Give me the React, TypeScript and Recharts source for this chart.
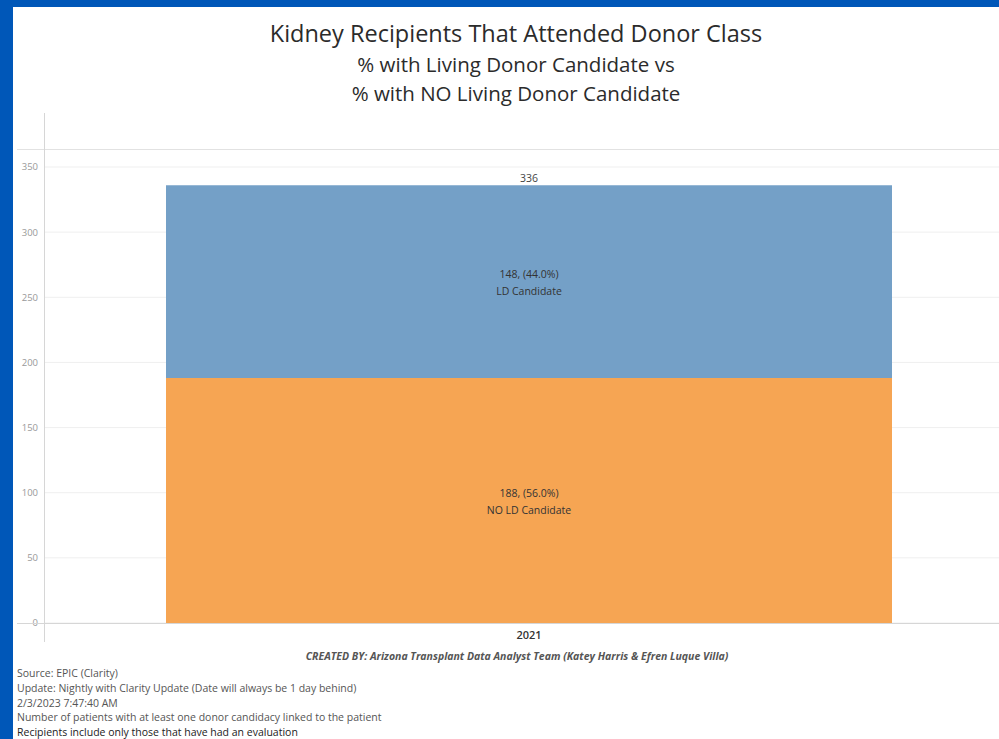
import { BarChart, Bar, XAxis, YAxis, CartesianGrid, LabelList } from 'recharts';

const years = ['2021'];
const withLdCandidate = [148];
const noLdCandidate = [188];
const yTicks = [0, 50, 100, 150, 200, 250, 300, 350];

const footerLines = [
  'Source: EPIC (Clarity)',
  'Update: Nightly with Clarity Update (Date will always be 1 day behind)',
  '2/3/2023 7:47:40 AM',
  'Number of patients with at least one donor candidacy linked to the patient',
  'Recipients include only those that have had an evaluation',
];

const data = years.map((year, i) => ({
  year,
  noLd: noLdCandidate[i],
  ld: withLdCandidate[i],
  total: noLdCandidate[i] + withLdCandidate[i],
}));

const BLUE = '#74a0c7';
const ORANGE = '#f6a553';
const FONT = '"Open Sans", "Noto Sans", sans-serif';

function pct(v: number, total: number) {
  return `${v}, (${((v / total) * 100).toFixed(1)}%)`;
}

// two-line label in the middle of a stacked segment
function segmentLabel(series: number[], caption: string) {
  return (props: any) => {
    const { x, y, width, height, index } = props;
    const total = data[index].total;
    const cx = x + width / 2;
    const cy = y + height / 2;
    return (
      <text x={cx} textAnchor="middle" fontSize={10.5} fill="#333" fontFamily={FONT}>
        <tspan x={cx} y={cy - 4}>{pct(series[index], total)}</tspan>
        <tspan x={cx} y={cy + 13}>{caption}</tspan>
      </text>
    );
  };
}

function totalLabel(props: any) {
  const { x, y, width, index } = props;
  return (
    <text x={x + width / 2} y={y - 3} textAnchor="middle" fontSize={10.5} fill="#444" fontFamily={FONT}>
      {data[index].total}
    </text>
  );
}

export default function App() {
  return (
    <div
      style={{
        position: 'fixed',
        left: 0,
        top: 0,
        width: 999,
        height: 739,
        background: '#0057b8',
        overflow: 'hidden',
        fontFamily: FONT,
      }}
    >
      <div style={{ position: 'absolute', left: 13, top: 7, width: 986, height: 732, background: '#fff' }} />

      <div style={{ position: 'absolute', left: 0, top: 17, width: 1032, textAlign: 'center', color: '#2b2b2b' }}>
        <div style={{ fontSize: 23.5, lineHeight: '33px', fontWeight: 500 }}>
          Kidney Recipients That Attended Donor Class
        </div>
        <div style={{ fontSize: 20.5, lineHeight: '29px', fontWeight: 500 }}>% with Living Donor Candidate vs</div>
        <div style={{ fontSize: 20.5, lineHeight: '29px', fontWeight: 500 }}>% with NO Living Donor Candidate</div>
      </div>

      <div style={{ position: 'absolute', left: 0, top: 0, width: 1014, height: 739 }}>
        <BarChart
          width={1014}
          height={739}
          data={data}
          margin={{ top: 167, right: 0, bottom: 86, left: 14 }}
          barSize={726}
        >
          <CartesianGrid vertical={false} stroke="#efefef" />
          <XAxis
            dataKey="year"
            axisLine={false}
            tickLine={false}
            tick={{ fontSize: 11, fill: '#333', fontWeight: 600, fontFamily: FONT }}
            tickMargin={2}
          />
          <YAxis
            type="number"
            domain={[0, 350]}
            ticks={yTicks}
            width={30}
            axisLine={false}
            tickLine={false}
            tick={{ fontSize: 9.5, fill: '#999', fontFamily: FONT }}
            tickMargin={0}
          />
          <Bar dataKey="noLd" stackId="a" fill={ORANGE} isAnimationActive={false}>
            <LabelList dataKey="noLd" content={segmentLabel(noLdCandidate, 'NO LD Candidate')} />
          </Bar>
          <Bar dataKey="ld" stackId="a" fill={BLUE} isAnimationActive={false}>
            <LabelList dataKey="ld" content={segmentLabel(withLdCandidate, 'LD Candidate')} />
            <LabelList dataKey="ld" content={totalLabel} />
          </Bar>
        </BarChart>
      </div>

      {/* pane frame lines */}
      <div style={{ position: 'absolute', left: 17, top: 149, width: 982, height: 1, background: '#e2e2e2' }} />
      <div style={{ position: 'absolute', left: 17, top: 623, width: 982, height: 1, background: '#d6d6d6' }} />
      <div style={{ position: 'absolute', left: 44, top: 113, width: 1, height: 529, background: '#d6d6d6' }} />

      <div
        style={{
          position: 'absolute',
          left: 0,
          top: 649,
          width: 1034,
          textAlign: 'center',
          fontSize: 10.5,
          fontStyle: 'italic',
          fontWeight: 700,
          color: '#555',
        }}
      >
        CREATED BY: Arizona Transplant Data Analyst Team (Katey Harris &amp; Efren Luque Villa)
      </div>

      <div style={{ position: 'absolute', left: 17, top: 666, fontSize: 10.5, color: '#555', lineHeight: '14.8px' }}>
        {footerLines.map((line, i) => (
          <div key={i} style={{ color: i === footerLines.length - 1 ? '#222' : '#555', whiteSpace: 'nowrap' }}>
            {line}
          </div>
        ))}
      </div>
    </div>
  );
}
